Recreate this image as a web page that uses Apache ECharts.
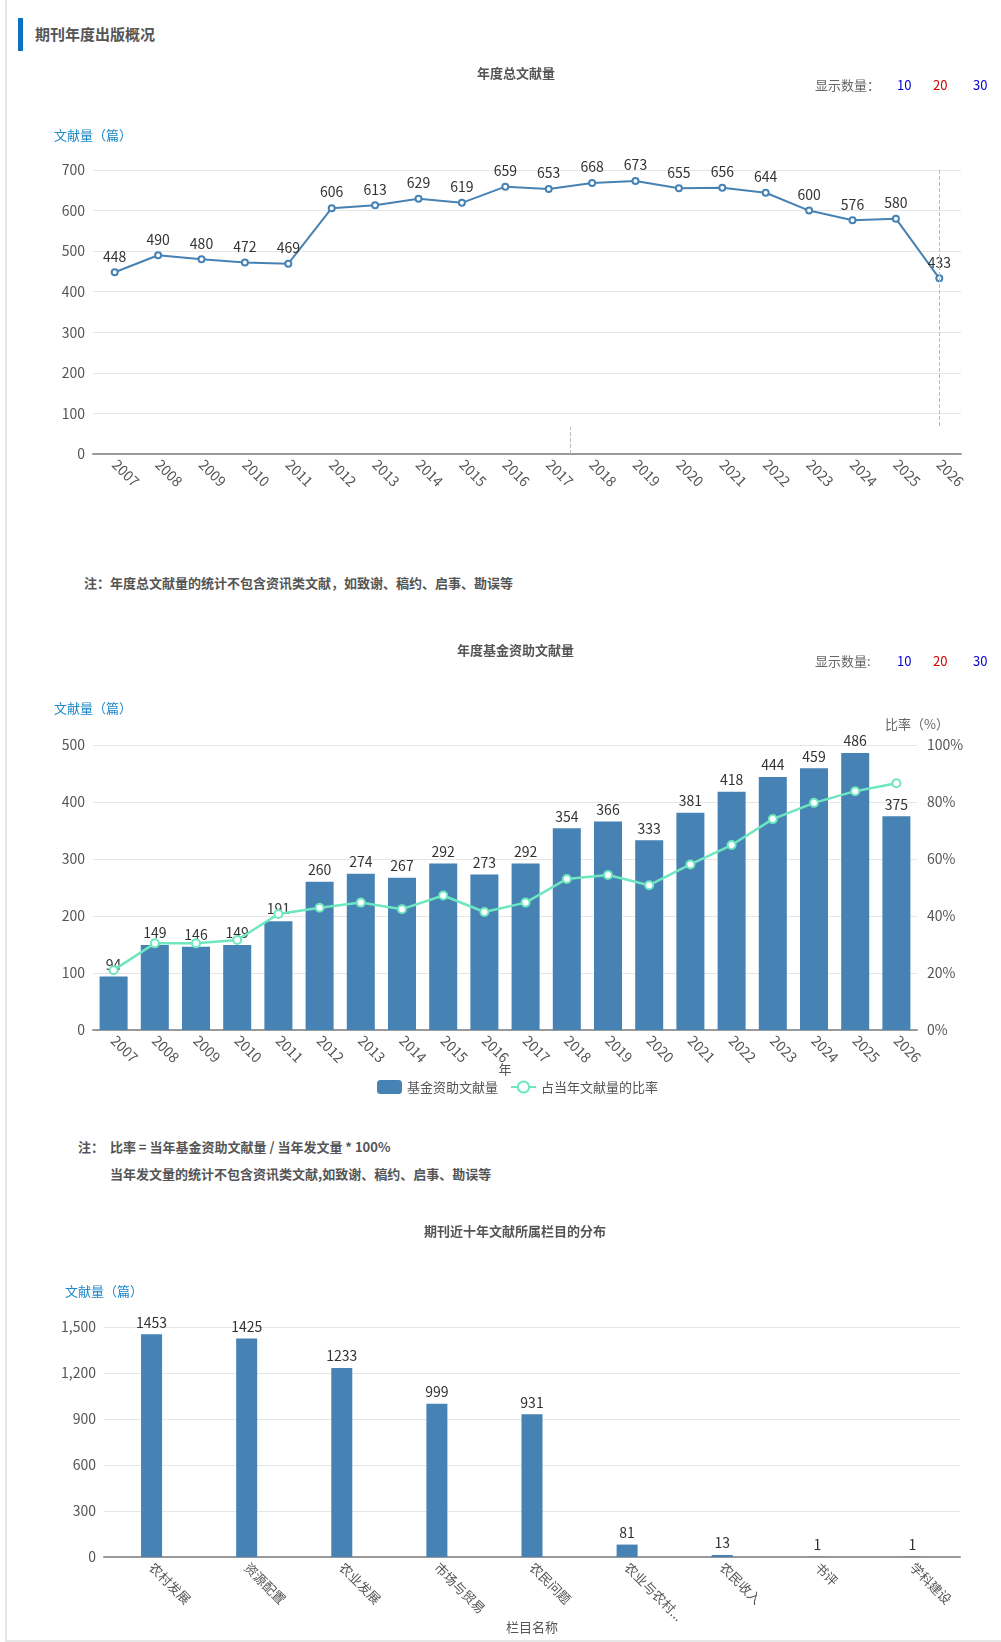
<!DOCTYPE html>
<html lang="zh">
<head>
    <meta charset="utf-8">
    <title>期刊年度出版概况</title>
    <script src="https://cdn.jsdelivr.net/npm/echarts@6/dist/echarts.min.js"></script>
    <style>
        body { margin: 0; background: #fff; font-family: "Noto Sans CJK SC", sans-serif; overflow: hidden; }
        .panel { position: absolute; left: 5px; top: 0; width: 1100px; height: 1640px;
                 border-left: 2px solid #e6e6e6; border-bottom: 2px solid #e6e6e6; }
        .head { position: absolute; left: 18px; top: 18px; height: 33px; border-left: 5px solid #0b72c0; }
        .head span { position: absolute; left: 12px; top: 5px; white-space: nowrap;
                     font-size: 15px; font-weight: bold; color: #555; }
        .chart { position: absolute; left: 0; width: 1001px; }
        .count { position: absolute; font-size: 13px; color: #666; white-space: nowrap; }
        .count b { font-weight: normal; position: absolute; }
        .note { position: absolute; font-size: 13px; font-weight: bold; color: #555; white-space: nowrap; }
    </style>
</head>
<body>
<div class="panel"></div>
<div class="head"><span>期刊年度出版概况</span></div>

<div id="c1" class="chart" style="top:40px;height:500px;"></div>
<div class="count" style="left:815px;top:75px;">显示数量：<b style="left:82px;color:#0000cc">10</b><b style="left:118px;color:#cc0000">20</b><b style="left:158px;color:#0000cc">30</b></div>
<div class="note" style="left:84px;top:573px;">注：年度总文献量的统计不包含资讯类文献，如致谢、稿约、启事、勘误等</div>

<div id="c2" class="chart" style="top:620px;height:500px;"></div>
<div class="count" style="left:815px;top:651px;">显示数量:<b style="left:82px;color:#0000cc">10</b><b style="left:118px;color:#cc0000">20</b><b style="left:158px;color:#0000cc">30</b></div>
<div class="note" style="left:78px;top:1137px;">注：&nbsp;&nbsp;比率 = 当年基金资助文献量 / 当年发文量 * 100%</div>
<div class="note" style="left:110px;top:1164px;">当年发文量的统计不包含资讯类文献,如致谢、稿约、启事、勘误等</div>

<div id="c3" class="chart" style="top:1200px;height:440px;"></div>

<script>
    // 年份
    var years = ['2007', '2008', '2009', '2010', '2011', '2012', '2013', '2014', '2015', '2016',
        '2017', '2018', '2019', '2020', '2021', '2022', '2023', '2024', '2025', '2026'];
    // 年度总文献量
    var totalCount = [448, 490, 480, 472, 469, 606, 613, 629, 619, 659,
        653, 668, 673, 655, 656, 644, 600, 576, 580, 433];
    // 年度基金资助文献量
    var fundCount = [94, 149, 146, 149, 191, 260, 274, 267, 292, 273,
        292, 354, 366, 333, 381, 418, 444, 459, 486, 375];
    // 占当年文献量的比率(%)
    var fundRate = [21.0, 30.4, 30.4, 31.6, 40.7, 42.9, 44.7, 42.4, 47.2, 41.4,
        44.7, 53.0, 54.4, 50.8, 58.1, 64.9, 74.0, 79.7, 83.8, 86.6];
    // 栏目分布
    var columns = ['农村发展', '资源配置', '农业发展', '市场与贸易', '农民问题', '农业与农村...', '农民收入', '书评', '学科建设'];
    var columnCount = [1453, 1425, 1233, 999, 931, 81, 13, 1, 1];

    var font = '"Noto Sans CJK SC", sans-serif';
    var blueName = {color: '#1e88c8', fontSize: 13, fontFamily: font};
    var numLbl = {color: '#555', fontSize: 14, fontFamily: font};
    var cjkLbl = {color: '#555', fontSize: 13, fontFamily: font};
    var dataLbl = {show: true, position: 'top', color: '#333', fontSize: 14, fontFamily: font};
    var splitL = {lineStyle: {color: '#e6e6e6'}};
    var baseLine = {lineStyle: {color: '#999', width: 2}};
    var titleStyle = {color: '#555', fontSize: 13, fontWeight: 'bold', fontFamily: font};

    // 年度总文献量
    var chart1 = echarts.init(document.getElementById('c1'));
    chart1.setOption({
        animation: false,
        title: {text: '年度总文献量', left: 472, top: 22, textStyle: titleStyle},
        grid: {left: 93, right: 40, top: 130, height: 284, outerBoundsMode: 'none'},
        xAxis: [{
            type: 'category', data: years, boundaryGap: true,
            axisTick: {show: false}, axisLine: baseLine,
            axisLabel: Object.assign({rotate: -45, margin: 8, interval: 0}, numLbl)
        }, {
            // 辅助轴，仅用于画年份之间的虚线
            type: 'value', min: -0.5, max: years.length - 0.5, show: false
        }],
        yAxis: {
            type: 'value', min: 0, max: 700, interval: 100,
            name: '文献量（篇）', nameGap: 28, nameTextStyle: blueName,
            axisLine: {show: false, onZero: false}, axisTick: {show: false},
            axisLabel: Object.assign({margin: 8}, numLbl), splitLine: splitL
        },
        series: [{
            type: 'line', data: totalCount,
            symbol: 'emptyCircle', symbolSize: 6,
            lineStyle: {color: '#4682b4', width: 2},
            itemStyle: {color: '#4682b4', borderWidth: 2},
            label: dataLbl,
            markLine: {
                silent: true, symbol: 'none', label: {show: false},
                lineStyle: {color: '#bbb', type: 'dashed', width: 1},
                data: [[{coord: ['2026', 700]}, {coord: ['2026', 66]}]]
            }
        }, {
            type: 'line', xAxisIndex: 1, data: [], silent: true,
            markLine: {
                silent: true, symbol: 'none', label: {show: false},
                lineStyle: {color: '#bbb', type: 'dashed', width: 1},
                data: [[{coord: [10.5, 0]}, {coord: [10.5, 66]}]]
            }
        }]
    });

    // 年度基金资助文献量
    var chart2 = echarts.init(document.getElementById('c2'));
    chart2.setOption({
        animation: false,
        title: {text: '年度基金资助文献量', left: 452, top: 19, textStyle: titleStyle},
        legend: {
            top: 455, left: 372, itemGap: 12,
            textStyle: {color: '#555', fontSize: 13, fontFamily: font},
            data: ['基金资助文献量', '占当年文献量的比率']
        },
        grid: {left: 93, right: 84, top: 125, height: 285, outerBoundsMode: 'none'},
        xAxis: {
            type: 'category', data: years,
            name: '年', nameLocation: 'middle', nameGap: 33, nameMoveOverlap: false,
            nameTextStyle: {color: '#555', fontSize: 13, fontFamily: font},
            axisTick: {show: false}, axisLine: baseLine,
            axisLabel: Object.assign({rotate: -45, margin: 8, interval: 0}, numLbl)
        },
        yAxis: [{
            type: 'value', min: 0, max: 500, interval: 100,
            name: '文献量（篇）', nameGap: 30, nameTextStyle: blueName,
            axisLabel: Object.assign({margin: 8}, numLbl), splitLine: splitL
        }, {
            type: 'value', min: 0, max: 100, interval: 20,
            name: '比率（%）', nameGap: 14,
            nameTextStyle: {color: '#666', fontSize: 13, fontFamily: font},
            axisLabel: Object.assign({margin: 10, formatter: '{value}%'}, numLbl),
            splitLine: {show: false}
        }],
        series: [{
            name: '基金资助文献量', type: 'bar', data: fundCount,
            barCategoryGap: '32%',
            itemStyle: {color: '#4682b4'},
            label: dataLbl
        }, {
            name: '占当年文献量的比率', type: 'line', yAxisIndex: 1, data: fundRate,
            symbol: 'emptyCircle', symbolSize: 8,
            lineStyle: {color: '#6ee6c0', width: 2.5},
            itemStyle: {color: '#6ee6c0', borderWidth: 2.5}
        }]
    });

    // 期刊近十年文献所属栏目的分布
    var chart3 = echarts.init(document.getElementById('c3'));
    chart3.setOption({
        animation: false,
        title: {text: '期刊近十年文献所属栏目的分布', left: 419, top: 20, textStyle: titleStyle},
        grid: {left: 104, right: 41, top: 127, height: 230, outerBoundsMode: 'none'},
        xAxis: {
            type: 'category', data: columns,
            name: '栏目名称', nameLocation: 'middle', nameGap: 64, nameMoveOverlap: false,
            nameTextStyle: {color: '#555', fontSize: 13, fontFamily: font},
            axisTick: {show: false}, axisLine: baseLine,
            axisLabel: Object.assign({rotate: -45, margin: 8, interval: 0}, cjkLbl)
        },
        yAxis: {
            type: 'value', min: 0, max: 1500, interval: 300,
            name: '文献量（篇）', nameGap: 29, nameTextStyle: blueName,
            axisLabel: Object.assign({margin: 8}, numLbl), splitLine: splitL
        },
        series: [{
            type: 'bar', data: columnCount, barWidth: 21,
            itemStyle: {color: '#4682b4'},
            label: dataLbl
        }]
    });
</script>
</body>
</html>
